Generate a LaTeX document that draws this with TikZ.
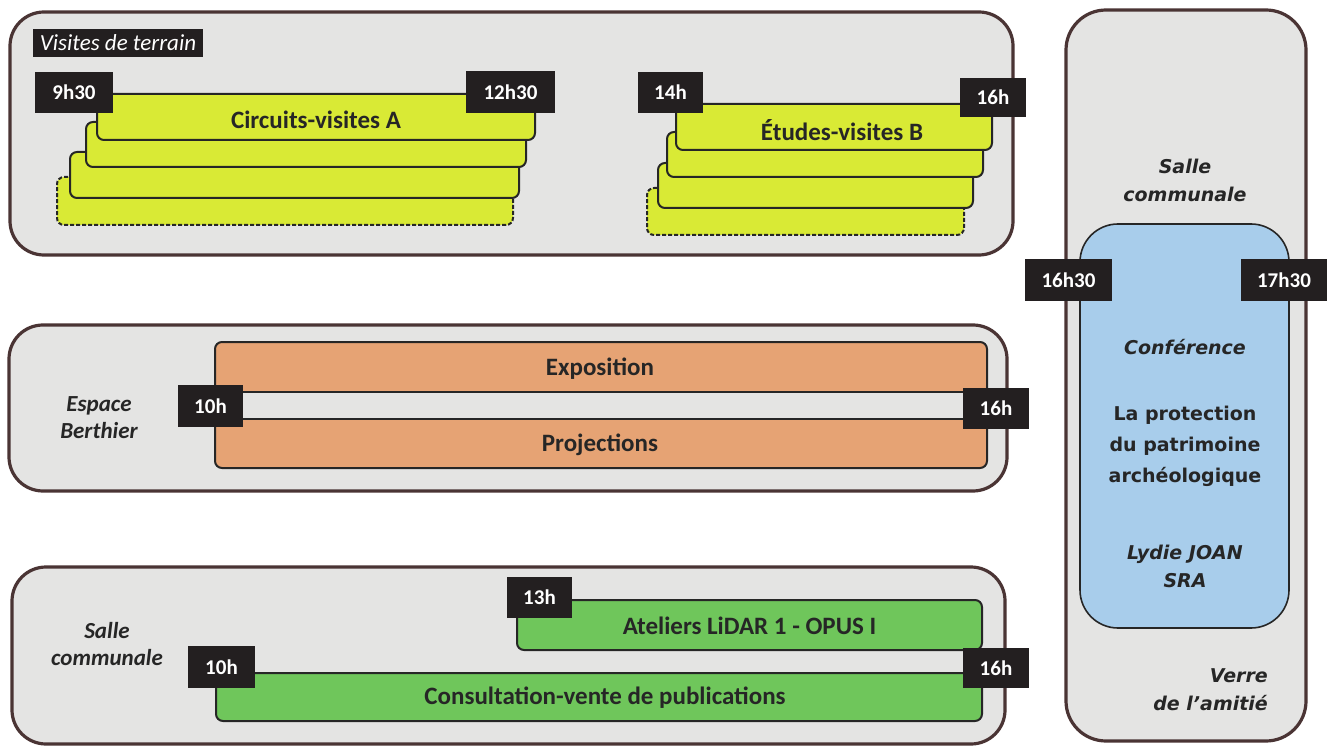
\documentclass[tikz,border=0pt]{standalone}
\usepackage{fontspec}
\setmainfont{Carlito}
\newfontfamily\vfont{DejaVu Sans}
\usetikzlibrary{fit}
\definecolor{panelfill}{HTML}{E4E4E3}
\definecolor{panelline}{HTML}{4A3434}
\definecolor{lab}{HTML}{231F20}
\definecolor{yel}{HTML}{D9EA35}
\definecolor{ora}{HTML}{E6A374}
\definecolor{grn}{HTML}{6FC65B}
\definecolor{blu}{HTML}{A8CDEB}
\definecolor{ink}{HTML}{262626}
\begin{document}
\begin{tikzpicture}[x=1pt,y=-1pt,
 panel/.style={draw=panelline, line width=3.2pt, fill=panelfill, rounded corners=34pt, inner sep=0pt},
 inbox/.style={draw=ink, line width=2pt, rounded corners=7pt, inner sep=0pt},
 dashbox/.style={inbox, dash pattern=on 4pt off 2pt},
 tbox/.style={fill=lab, inner sep=0pt},
 tlab/.style={text=white, inner sep=0pt, font=\bfseries\fontsize{21}{21}\selectfont},
 btxt/.style={text=ink, inner sep=0pt, font=\bfseries\fontsize{25}{25}\selectfont},
 side/.style={text=ink, inner sep=0pt, align=center, font=\bfseries\itshape\fontsize{23}{27}\selectfont},
 vtxt/.style={text=ink, inner sep=0pt, align=center, font=\vfont\bfseries\fontsize{19}{31}\selectfont},
 vit/.style={text=ink, inner sep=0pt, align=center, font=\vfont\bfseries\itshape\fontsize{19}{28}\selectfont},
]
\useasboundingbox (0,0) rectangle (1333,751);
\fill[white] (0,0) rectangle (1333,751);

% ---------- top panel ----------
\node[panel, fit={(10,12)(1013,255)}] (top) {};
\node[tbox, fit={(33,29)(203,57)}] (vt) {};
\node[text=white, inner sep=0pt, font=\itshape\fontsize{23}{23}\selectfont] (vtt) at (vt.center) {Visites de terrain};

\node[dashbox, fill=yel, fit={(57,177)(513,225)}] (a4) {};
\node[inbox, fill=yel, fit={(70,152)(519,198)}] (a3) {};
\node[inbox, fill=yel, fit={(86,122)(526,167)}] (a2) {};
\node[inbox, fill=yel, fit={(97,94)(535,140)}] (a1) {};
\node[btxt] (a1t) at ([yshift=-3pt]a1.center) {Circuits-visites A};
\node[tbox, fit={(35,72)(113,113)}] (t930) {};
\node[tlab] (t930t) at (t930.center) {9h30};
\node[tbox, fit={(466,71)(555,113)}] (t1230) {};
\node[tlab] (t1230t) at (t1230.center) {12h30};

\node[dashbox, fill=yel, fit={(647,188)(964,235)}] (b4) {};
\node[inbox, fill=yel, fit={(658,163)(973,208)}] (b3) {};
\node[inbox, fill=yel, fit={(667,132)(983,177)}] (b2) {};
\node[inbox, fill=yel, fit={(676,104)(992,150)}] (b1) {};
\node[btxt] (b1t) at ([xshift=8pt,yshift=-3pt]b1.center) {Études-visites B};
\node[tbox, fit={(638,72)(703,113)}] (t14) {};
\node[tlab] (t14t) at (t14.center) {14h};
\node[tbox, fit={(960,78)(1026,117)}] (t16a) {};
\node[tlab] (t16at) at (t16a.center) {16h};

% ---------- middle panel ----------
\node[panel, fit={(9,325)(1007,491)}] (mid) {};
\node[inbox, fill=ora, fit={(215,342)(987,468)}] (expo) {};
\node[draw=ink, line width=2pt, fill=panelfill, inner sep=0pt, fit={(215,392)(987,419)}] (strip) {};
\node[btxt] (expt) at (600,369) {Exposition};
\node[btxt] (projt) at (600,445) {Projections};
\node[side] (esp) at (99,418) {Espace\\Berthier};
\node[tbox, fit={(178,385)(243,427)}] (t10a) {};
\node[tlab] (t10at) at (t10a.center) {10h};
\node[tbox, fit={(963,388)(1029,429)}] (t16b) {};
\node[tlab] (t16bt) at (t16b.center) {16h};

% ---------- bottom panel ----------
\node[panel, fit={(12,567)(1005,744)}] (bot) {};
\node[inbox, fill=grn, fit={(517,600)(982,650)}] (atel) {};
\node[inbox, fill=grn, fit={(216,673)(982,721)}] (cons) {};
\node[btxt] (atelt) at ([yshift=-1pt]atel.center) {Ateliers LiDAR 1 - OPUS I};
\node[btxt] (const) at ([xshift=6pt,yshift=-1pt]cons.center) {Consultation-vente de publications};
\node[side] (sc) at (107,644) {Salle\\communale};
\node[tbox, fit={(507,577)(572,618)}] (t13) {};
\node[tlab] (t13t) at (t13.center) {13h};
\node[tbox, fit={(188,646)(255,688)}] (t10b) {};
\node[tlab] (t10bt) at (t10b.center) {10h};
\node[tbox, fit={(963,648)(1029,688)}] (t16c) {};
\node[tlab] (t16ct) at (t16c.center) {16h};

% ---------- right panel ----------
\node[panel, rounded corners=40pt, fit={(1066,10)(1306,741)}] (rp) {};
\node[inbox, fill=blu, rounded corners=38pt, line width=1.6pt, fit={(1080,224)(1289,628)}] (conf) {};
\node[vit] (salle2) at (1185,180) {Salle\\communale};
\node[vit] (cft) at (1185,347) {Conférence};
\node[vtxt] (prot) at (1185,446) {La protection\\du patrimoine\\archéologique};
\node[vit] (lyd) at (1185,566) {Lydie JOAN\\SRA};
\node[vit, align=right, anchor=east] (verre) at (1268,690) {Verre\\de l’amitié};
\node[tbox, fit={(1025,259)(1112,301)}] (t1630) {};
\node[tlab] (t1630t) at (t1630.center) {16h30};
\node[tbox, fit={(1241,259)(1327,301)}] (t1730) {};
\node[tlab] (t1730t) at (t1730.center) {17h30};
\end{tikzpicture}
\end{document}
